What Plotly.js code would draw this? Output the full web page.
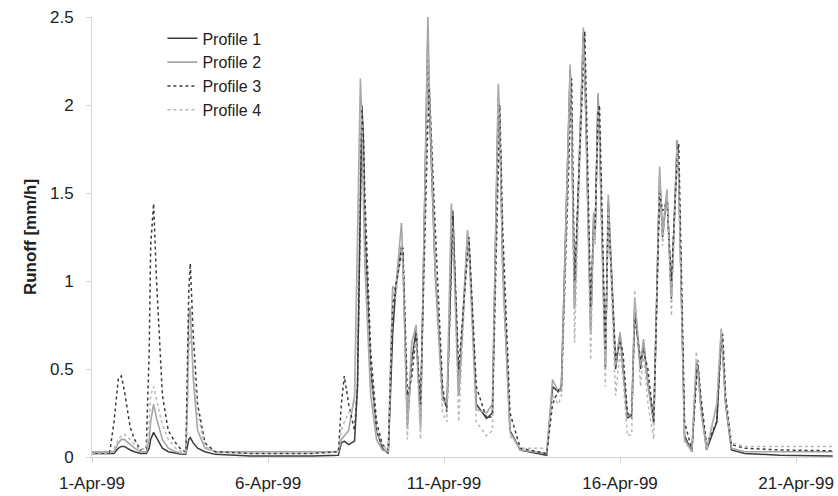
<!DOCTYPE html>
<html>
<head>
<meta charset="utf-8">
<script src="https://cdn.plot.ly/plotly-3.0.1.min.js"></script>
<style>html,body{margin:0;padding:0;background:#fff;}#chart{width:838px;height:496px;}</style>
</head>
<body>
<div id="chart"></div>
<script>
// hours since 1-Apr-99 00:00
const hours = [0,12,15,18,20,22,26,29,33,37,39,40,42,44,48,52,57,61,64,65,66,67,69,72,77,84,108,150,168,170,172,175,179,181,183,184,185,186,190,194,198,202,205,207,211,212,215,218,221,224,229,230,234,239,242,245,246,250,256,257,262,269,273,277,278,280,285,292,310,314,318,320,326,327,329,335,336,340,342,343,345,346,350,352,357,360,362,365,368,370,374,376,379,383,387,389,392,395,399,400,404,409,412,413,415,419,426,429,430,432,436,445,469,505];

const profile1 = [0.02,0.02,0.02,0.05,0.06,0.06,0.04,0.03,0.02,0.02,0.05,0.10,0.14,0.11,0.05,0.03,0.02,0.015,0.015,0.05,0.10,0.11,0.08,0.05,0.03,0.015,0.005,0.005,0.01,0.08,0.09,0.07,0.09,0.4,1.5,2.0,1.8,1.3,0.5,0.15,0.05,0.02,0.7,0.95,1.2,1.15,0.18,0.55,0.72,0.2,2.4,2.0,1.05,0.35,0.28,1.1,1.4,0.35,1.25,1.22,0.3,0.22,0.25,2.05,1.9,1.1,0.15,0.04,0.01,0.4,0.37,0.4,2.2,1.9,0.85,2.4,2.2,0.72,1.35,1.25,2.05,1.85,0.5,1.45,0.5,0.7,0.5,0.22,0.24,0.85,0.5,0.65,0.42,0.2,1.6,1.25,1.5,0.9,1.8,1.6,0.12,0.03,0.5,0.52,0.3,0.04,0.2,0.7,0.6,0.3,0.04,0.02,0.01,0.005];

const profile2 = [0.03,0.03,0.03,0.08,0.1,0.1,0.07,0.05,0.03,0.03,0.1,0.2,0.3,0.22,0.1,0.05,0.03,0.02,0.02,0.3,0.8,0.85,0.45,0.15,0.05,0.03,0.03,0.03,0.03,0.1,0.12,0.15,0.35,1.2,2.15,1.9,1.5,1.1,0.35,0.1,0.04,0.03,0.97,0.95,1.33,1.1,0.16,0.65,0.75,0.16,2.51,2.1,1.07,0.33,0.29,1.44,1.3,0.35,1.29,1.2,0.27,0.25,0.3,2.12,1.9,1.08,0.14,0.04,0.02,0.44,0.37,0.39,2.23,1.9,0.84,2.44,2.2,0.71,1.39,1.23,2.07,1.8,0.52,1.49,0.52,0.71,0.52,0.23,0.25,0.9,0.52,0.67,0.42,0.18,1.65,1.27,1.52,0.91,1.8,1.6,0.1,0.03,0.54,0.5,0.3,0.04,0.3,0.73,0.6,0.3,0.05,0.03,0.03,0.03];

const profile3 = [0.02,0.02,0.2,0.45,0.46,0.38,0.17,0.1,0.04,0.05,0.6,1.2,1.44,1.0,0.35,0.15,0.08,0.04,0.03,0.4,0.95,1.1,0.7,0.3,0.08,0.03,0.02,0.02,0.03,0.3,0.46,0.3,0.15,0.4,1.3,1.97,1.85,1.5,0.6,0.2,0.07,0.04,0.85,0.97,1.15,1.19,0.35,0.45,0.7,0.3,1.9,2.09,1.3,0.4,0.25,1.2,1.37,0.5,1.15,1.25,0.4,0.22,0.23,1.8,2.0,1.3,0.25,0.05,0.02,0.3,0.38,0.37,2.0,2.15,1.0,2.3,2.42,0.85,1.3,1.3,1.95,2.0,0.6,1.4,0.55,0.65,0.6,0.25,0.22,0.8,0.55,0.6,0.5,0.2,1.5,1.4,1.45,1.0,1.7,1.78,0.2,0.04,0.45,0.55,0.35,0.07,0.2,0.65,0.7,0.35,0.07,0.05,0.04,0.035];

const profile4 = [0.02,0.02,0.05,0.1,0.12,0.13,0.1,0.07,0.04,0.05,0.2,0.35,0.4,0.32,0.18,0.1,0.05,0.03,0.03,0.25,0.6,0.7,0.5,0.25,0.06,0.03,0.02,0.02,0.03,0.15,0.2,0.25,0.3,1.0,2.0,1.9,1.6,1.2,0.45,0.15,0.06,0.04,0.95,0.9,1.2,1.1,0.1,0.6,0.65,0.1,2.3,2.05,1.0,0.25,0.2,1.35,1.3,0.2,1.25,1.15,0.2,0.12,0.15,2.05,1.9,1.0,0.12,0.05,0.05,0.35,0.3,0.35,2.15,1.85,0.65,2.35,2.15,0.55,1.3,1.2,1.95,1.75,0.4,1.4,0.35,0.6,0.45,0.12,0.13,0.95,0.4,0.6,0.3,0.1,1.6,1.2,1.5,0.8,1.75,1.55,0.08,0.04,0.6,0.5,0.25,0.05,0.3,0.72,0.6,0.3,0.08,0.06,0.06,0.06];

const seriesNames = ['Profile 1','Profile 2','Profile 3','Profile 4'];
const tickDates = ['1999-04-01','1999-04-06','1999-04-11','1999-04-16','1999-04-21'];
const tickLabels = ['1-Apr-99','6-Apr-99','11-Apr-99','16-Apr-99','21-Apr-99'];
const yTicks = [0,0.5,1,1.5,2,2.5];
const yTickLabels = ['0','0.5','1','1.5','2','2.5'];

const start = Date.UTC(1999,3,1,0,0,0);
function toDate(h){
  const d = new Date(start + h*3600000);
  return d.toISOString().slice(0,19).replace('T',' ');
}
const xDates = hours.map(toDate);

const styles = [
  {color:'#3c3c3c', dash:'solid', width:1.5},
  {color:'#a6a6a6', dash:'solid', width:1.6},
  {color:'#3c3c3c', dash:'dot', width:1.5},
  {color:'#b8b8b8', dash:'dot', width:1.5}
];
const values = [profile1, profile2, profile3, profile4];

const data = values.map((v,i)=>({
  x: xDates, y: v, type:'scatter', mode:'lines', name: seriesNames[i],
  line: {color: styles[i].color, dash: styles[i].dash, width: styles[i].width}
}));

const layout = {
  width: 838, height: 496,
  margin: {l: 92, r: 5, t: 17, b: 39},
  paper_bgcolor: '#ffffff', plot_bgcolor: '#ffffff',
  font: {family: 'Liberation Sans, Arial, sans-serif', size: 17, color: '#222'},
  showlegend: true,
  legend: {x: 0.095, y: 0.99, xanchor: 'left', yanchor: 'top', bgcolor: 'rgba(0,0,0,0)',
           font: {size: 16, color: '#222'}, tracegroupgap: 0},
  xaxis: {
    type: 'date',
    range: [toDate(0), toDate(505.2)],
    tickvals: tickDates, ticktext: tickLabels,
    showgrid: false, zeroline: false,
    showline: true, linecolor: '#d4d4d4', linewidth: 1,
    ticks: 'outside', ticklen: 5, tickcolor: '#d4d4d4',
    ticklabelstandoff: 6,
    tickfont: {size: 17, color: '#222'}
  },
  yaxis: {
    range: [0, 2.5],
    tickvals: yTicks, ticktext: yTickLabels,
    showgrid: false, zeroline: false,
    showline: true, linecolor: '#d4d4d4', linewidth: 1,
    ticks: 'outside', ticklen: 5, tickcolor: '#d4d4d4',
    ticklabelstandoff: 9,
    tickfont: {size: 17, color: '#222'},
    title: {text: '<b>Runoff [mm/h]</b>', font: {size: 17, color: '#222'}, standoff: 9}
  }
};

Plotly.newPlot('chart', data, layout, {displayModeBar: false, staticPlot: true});
</script>
</body>
</html>
